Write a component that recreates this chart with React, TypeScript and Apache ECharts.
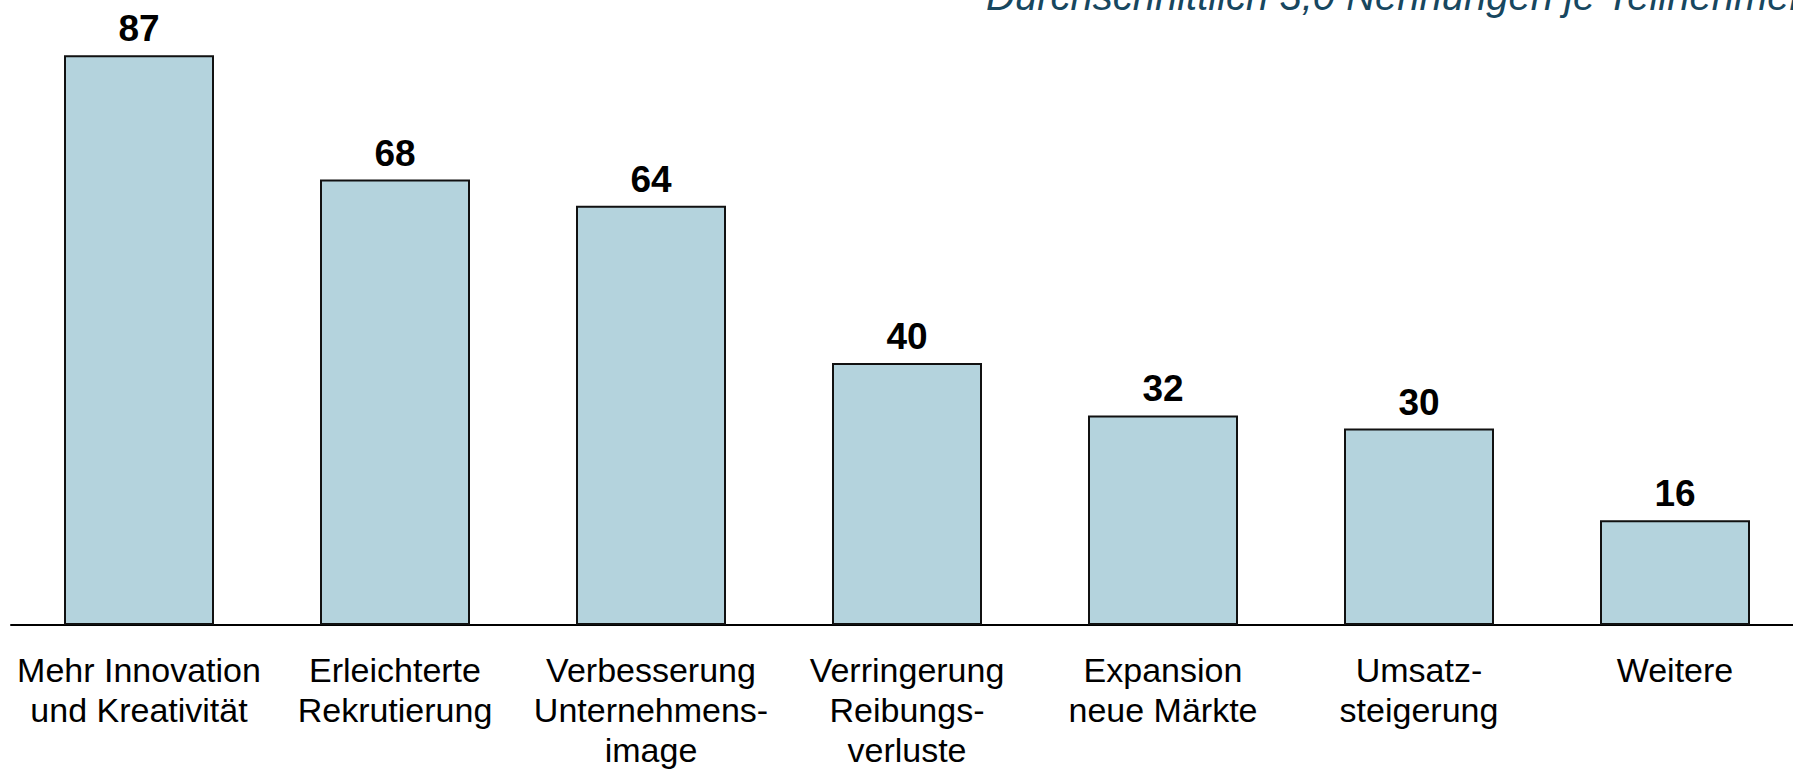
import React, { useEffect, useRef } from "react";
import * as echarts from "echarts";

const categories = [
  "Mehr Innovation\nund Kreativität",
  "Erleichterte\nRekrutierung",
  "Verbesserung\nUnternehmens-\nimage",
  "Verringerung\nReibungs-\nverluste",
  "Expansion\nneue Märkte",
  "Umsatz-\nsteigerung",
  "Weitere",
];
const values = [87, 68, 64, 40, 32, 30, 16];
const subtitle = "Durchschnittlich 3,0 Nennungen je Teilnehmer";

const FONT = "'Liberation Sans', Arial, Helvetica, sans-serif";

export default function App() {
  const ref = useRef<HTMLDivElement>(null);
  useEffect(() => {
    if (!ref.current) return;
    const chart = echarts.init(ref.current, null, { renderer: "svg" });
    chart.setOption({
      animation: false,
      backgroundColor: "#ffffff",
      textStyle: { fontFamily: FONT },
      grid: { left: 11, right: 0, top: 35.5, bottom: 145, containLabel: false },
      xAxis: {
        type: "category",
        data: categories,
        axisLine: { show: true, lineStyle: { color: "#000000", width: 2 } },
        axisTick: { show: false },
        axisLabel: {
          interval: 0,
          margin: 25,
          color: "#000000",
          fontSize: 34,
          lineHeight: 40,
          fontFamily: FONT,
          hideOverlap: false,
        },
      },
      yAxis: {
        type: "value",
        min: 0,
        max: 90,
        show: false,
        splitLine: { show: false },
      },
      graphic: [
        {
          type: "text",
          x: 986,
          y: -4,
          style: {
            text: subtitle,
            fontSize: 40,
            fontStyle: "italic",
            fontFamily: FONT,
            fill: "#17475F",
            verticalAlign: "middle",
            align: "left",
          },
        },
      ],
      series: [
        {
          type: "bar",
          data: values,
          barWidth: 150,
          itemStyle: {
            color: "#B4D3DD",
            borderColor: "#111111",
            borderWidth: 2,
          },
          label: {
            show: true,
            position: "top",
            distance: 8,
            color: "#000000",
            fontSize: 37,
            lineHeight: 37,
            fontWeight: "bold",
            fontFamily: FONT,
          },
        },
      ],
    });
    return () => chart.dispose();
  }, []);
  return (
    <div
      style={{
        position: "fixed",
        left: 0,
        top: 0,
        width: 1793,
        height: 770,
        overflow: "hidden",
        background: "#fff",
      }}
    >
      <div ref={ref} style={{ width: 1803, height: 770 }} />
    </div>
  );
}
